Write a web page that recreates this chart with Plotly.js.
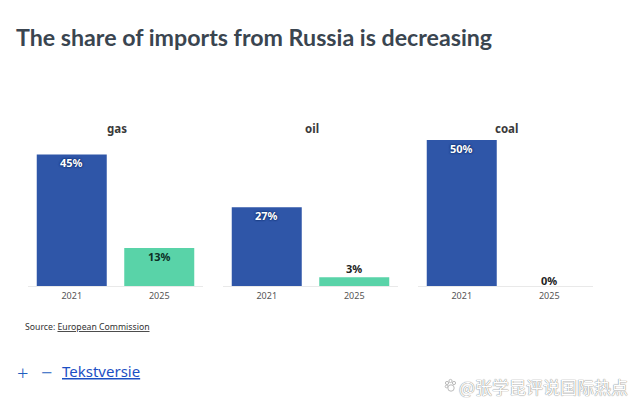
<!DOCTYPE html>
<html><head><meta charset="utf-8">
<script src="https://cdn.plot.ly/plotly-3.0.1.min.js"></script>
<style>html,body{margin:0;padding:0;background:#fff}#c{width:640px;height:411px}</style>
</head><body><div id="c"></div>
<script>
const years = ['2021', '2025'];
const panels = ['gas', 'oil', 'coal'];
const gasValues = [45, 13];
const oilValues = [27, 3];
const coalValues = [50, 0];
const barColors = ['#2f56a8', '#59d3a8'];
const titleText = 'The share of imports from Russia is decreasing';
const sourceText = 'Source: <u>European Commission</u>';
const linkText = '<u>Tekstversie</u>';
const watermarkText = '@张学昆评说国际热点';

const W = 640, H = 411;
const left = [28, 223, 418], pw = 175;
const top0 = 125.5, base = 286;
const series = [gasValues, oilValues, coalValues];
const labelFamily = 'Noto Sans, Open Sans, sans-serif';

const traces = series.map((vals, i) => ({
  type:'bar', x:years, y:vals,
  xaxis: i ? 'x'+(i+1) : 'x', yaxis: i ? 'y'+(i+1) : 'y',
  marker:{color:barColors, line:{width:0}},
  hoverinfo:'skip', showlegend:false
}));

const layout = {
  width:W, height:H, margin:{l:0,r:0,t:0,b:0},
  paper_bgcolor:'#fff', plot_bgcolor:'#fff',
  bargap:0.2, showlegend:false,
  annotations:[], shapes:[], font:{family:labelFamily, color:'#333'}
};
const yDom = [1-base/H, 1-top0/H];
left.forEach((l, i) => {
  const s = i ? String(i+1) : '';
  layout['xaxis'+s] = {
    domain:[l/W, (l+pw)/W], anchor:'y'+s, type:'category', range:[-0.5,1.5],
    showgrid:false, zeroline:false, showline:true, linecolor:'#e9e9e9', linewidth:1,
    ticks:'', tickfont:{family:labelFamily, size:9, color:'#555'},
    ticklabelstandoff:1, fixedrange:true
  };
  layout['yaxis'+s] = {
    domain:yDom, anchor:'x'+s, range:[0, (base-top0)/2.92], visible:false, fixedrange:true
  };
  layout.annotations.push({
    text:'<b>'+panels[i]+'</b>', xref:'x'+s+' domain', yref:'paper', x:0.5, y:1-128/H,
    xanchor:'center', yanchor:'middle', showarrow:false, xshift:1,
    font:{family:labelFamily, size:11.5, color:'#3a3a3a'}
  });
  series[i].forEach((v, j) => {
    const inside = v >= 10;
    const onBlue = inside && j === 0;
    layout.annotations.push({
      text:'<b>'+v+'%</b>', xref:'x'+s, yref:'y'+s, x:j, y:v,
      xanchor:'center', yanchor:'middle', showarrow:false,
      yshift: inside ? -8 : (v > 0 ? 9 : 6),
      font:{family:labelFamily, size:11, color: onBlue ? '#ffffff' : (inside ? '#0d2f25' : '#222222'),
            shadow: onBlue ? '0px 0px 2px #0b2a66, 0px 0px 2px #0b2a66' : 'none'}
    });
  });
});
const px = (x, y, text, font, anchor) => ({text, xref:'paper', yref:'paper', x:x/W, y:1-y/H,
  xanchor:anchor||'left', yanchor:'middle', showarrow:false, font, align:'left'});
layout.annotations.push(
  px(14, 37, '<b>'+titleText+'</b>', {family:'Lato, Open Sans, sans-serif', size:23.2, color:'#3a4550'}),
  px(23, 326.5, sourceText, {family:labelFamily, size:8.7, color:'#333'}),
  px(15, 372, '+', {family:labelFamily, size:20, weight:300, color:'#1f5fbf'}),
  px(39, 372, '−', {family:labelFamily, size:20, weight:300, color:'#1f5fbf'}),
  px(60, 371, linkText, {family:labelFamily, size:15, color:'#1b4fc4'}),
  px(630, 386, watermarkText, {family:'Noto Sans CJK SC, sans-serif', size:17, color:'#ffffff',
     shadow:'0px 0px 1px #888, 0px 0px 1px #888'}, 'right')
);
// watermark paw
[[447,383,1.6],[450.5,381,1.6],[454,383,1.6],[446.5,386.5,1.3],[451,388,3.2]].forEach(c => {
  layout.shapes.push({type:'circle', xref:'paper', yref:'paper',
    x0:(c[0]-c[2])/W, x1:(c[0]+c[2])/W, y0:1-(c[1]+c[2])/H, y1:1-(c[1]-c[2])/H,
    line:{color:'#bbbbbb', width:1}, fillcolor:'#ffffff'});
});
Plotly.newPlot('c', traces, layout, {displayModeBar:false, staticPlot:true});
</script></body></html>
